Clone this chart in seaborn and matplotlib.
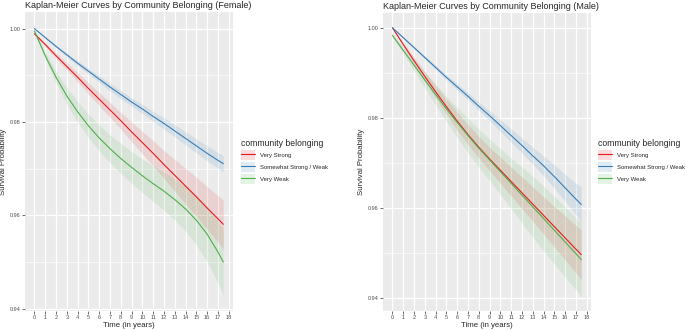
import pandas as pd
import seaborn as sns
import matplotlib.pyplot as plt
from matplotlib.lines import Line2D
from matplotlib.patches import Patch

# Time points (years) and groups
years = [0, 1, 2, 3, 4, 5, 6, 7, 8, 9, 10, 11, 12, 13, 14, 15, 16, 17, 17.5]
groups = ['Very Strong', 'Somewhat Strong / Weak', 'Very Weak']
colors = ['#E41A1C', '#377EB8', '#4DAF4A']
x_ticks = list(range(19))
y_ticks = [0.94, 0.96, 0.98, 1.00]

# Female survival estimates and CI half-widths
f_very_strong = [0.9989, 0.9966, 0.9942, 0.9919, 0.9896, 0.9872, 0.9849, 0.9826, 0.9803, 0.9779,
                 0.9756, 0.9733, 0.9709, 0.9686, 0.9663, 0.9640, 0.9616, 0.9593, 0.9581]
f_very_strong_ci = [0.0002, 0.0004, 0.0006, 0.0008, 0.0010, 0.0012, 0.0014, 0.0016, 0.0018, 0.0021,
                    0.0024, 0.0027, 0.0030, 0.0034, 0.0038, 0.0042, 0.0046, 0.0050, 0.0052]
f_somewhat = [1.0000, 0.9981, 0.9962, 0.9944, 0.9926, 0.9909, 0.9892, 0.9875, 0.9859, 0.9843,
              0.9828, 0.9812, 0.9797, 0.9781, 0.9765, 0.9749, 0.9733, 0.9718, 0.9711]
f_somewhat_ci = [0.0001, 0.0002, 0.0003, 0.0004, 0.0005, 0.0006, 0.0007, 0.0008, 0.0009, 0.0009,
                 0.0010, 0.0011, 0.0012, 0.0013, 0.0014, 0.0015, 0.0016, 0.0017, 0.0017]
f_very_weak = [0.9995, 0.9942, 0.9896, 0.9856, 0.9822, 0.9792, 0.9766, 0.9743, 0.9722, 0.9703,
               0.9685, 0.9668, 0.9652, 0.9634, 0.9614, 0.9590, 0.9560, 0.9522, 0.9500]
f_very_weak_ci = [0.0002, 0.0008, 0.0013, 0.0018, 0.0022, 0.0025, 0.0028, 0.0030, 0.0032, 0.0034,
                  0.0036, 0.0038, 0.0041, 0.0044, 0.0048, 0.0053, 0.0059, 0.0066, 0.0070]

# Male survival estimates and CI half-widths
m_very_strong = [1.0000, 0.9963, 0.9927, 0.9892, 0.9858, 0.9825, 0.9793, 0.9763, 0.9735, 0.9709,
                 0.9684, 0.9659, 0.9634, 0.9609, 0.9584, 0.9559, 0.9534, 0.9509, 0.9497]
m_very_strong_ci = [0.0001, 0.0004, 0.0008, 0.0011, 0.0014, 0.0017, 0.0020, 0.0022, 0.0024, 0.0026,
                    0.0029, 0.0032, 0.0035, 0.0038, 0.0041, 0.0045, 0.0049, 0.0053, 0.0055]
m_somewhat = [1.0000, 0.9978, 0.9956, 0.9934, 0.9912, 0.9890, 0.9869, 0.9848, 0.9826, 0.9805,
              0.9783, 0.9761, 0.9739, 0.9716, 0.9694, 0.9670, 0.9645, 0.9620, 0.9608]
m_somewhat_ci = [0.0001, 0.0002, 0.0003, 0.0004, 0.0005, 0.0006, 0.0007, 0.0008, 0.0009, 0.0011,
                 0.0013, 0.0015, 0.0017, 0.0019, 0.0022, 0.0026, 0.0030, 0.0035, 0.0039]
m_very_weak = [0.9983, 0.9950, 0.9917, 0.9884, 0.9852, 0.9820, 0.9790, 0.9761, 0.9733, 0.9707,
               0.9681, 0.9655, 0.9629, 0.9603, 0.9577, 0.9551, 0.9525, 0.9499, 0.9486]
m_very_weak_ci = [0.0003, 0.0008, 0.0013, 0.0018, 0.0023, 0.0028, 0.0033, 0.0038, 0.0042, 0.0046,
                  0.0051, 0.0056, 0.0062, 0.0068, 0.0072, 0.0075, 0.0078, 0.0080, 0.0082]

sns.set_theme(style='darkgrid')
plt.rcParams['font.family'] = ['Liberation Sans', 'DejaVu Sans']
plt.rcParams['axes.facecolor'] = '#EBEBEB'

fig = plt.figure(figsize=(6.85, 3.3), dpi=100)
W, H = 685, 330


def add_axes(left, right, top, bottom):
    return fig.add_axes([left / W, 1 - bottom / H, (right - left) / W, (bottom - top) / H])


def draw_panel(ax, surv, ci, title, ylim, legend_x):
    rows = []
    for g, s in zip(groups, surv):
        for t, v in zip(years, s):
            rows.append({'time': t, 'surv': v, 'group': g})
    df = pd.DataFrame(rows)

    for s, c, h in zip(surv, colors, ci):
        lo = [a - b for a, b in zip(s, h)]
        hi = [a + b for a, b in zip(s, h)]
        ax.fill_between(years, lo, hi, color=c, alpha=0.12, lw=0)

    sns.lineplot(data=df, x='time', y='surv', hue='group', palette=dict(zip(groups, colors)),
                 hue_order=groups, ax=ax, lw=0.8, legend=False)

    ax.set_xlim(-0.875, 18.4)
    ax.set_ylim(*ylim)
    ax.set_xticks(x_ticks)
    ax.set_xticklabels([str(x) for x in x_ticks])
    ax.set_yticks(y_ticks)
    ax.set_yticklabels([f'{y:.2f}' for y in y_ticks])
    ax.set_yticks([0.95, 0.97, 0.99], minor=True)
    ax.grid(which='major', color='white', lw=0.9)
    ax.grid(which='minor', axis='y', color='white', lw=0.45)
    for sp in ax.spines.values():
        sp.set_visible(False)
    ax.tick_params(which='major', length=2, width=0.5, color='#333333', labelsize=4,
                   labelcolor='#4D4D4D', pad=1, bottom=True, left=True)
    ax.tick_params(which='minor', length=0)
    ax.set_xlabel('Time (in years)', fontsize=5.6, labelpad=1.5)
    ax.set_ylabel('Survival Probability', fontsize=5.6, labelpad=2)
    ax.set_title(title, loc='left', fontsize=6.5, pad=3)

    handles = [(Patch(facecolor=c, alpha=0.15, lw=0), Line2D([], [], color=c, lw=0.8)) for c in colors]
    ax.legend(handles, groups, loc='upper left', bbox_to_anchor=(legend_x / W, 1 - 139 / H),
              bbox_transform=fig.transFigure, title='community belonging', frameon=False,
              fontsize=4.3, title_fontsize=6.2, handlelength=2.3, handleheight=2.2,
              labelspacing=0.35, borderpad=0, borderaxespad=0, handletextpad=0.9,
              alignment='left')


ax1 = add_axes(25, 233, 12.3, 310.7)
draw_panel(ax1, [f_very_strong, f_somewhat, f_very_weak],
           [f_very_strong_ci, f_somewhat_ci, f_very_weak_ci],
           'Kaplan-Meier Curves by Community Belonging (Female)', (0.9396, 1.0035), 241)

ax2 = add_axes(383, 591, 13.3, 310.7)
draw_panel(ax2, [m_very_strong, m_somewhat, m_very_weak],
           [m_very_strong_ci, m_somewhat_ci, m_very_weak_ci],
           'Kaplan-Meier Curves by Community Belonging (Male)', (0.93725, 1.0032), 598)

fig.savefig('out.png', dpi=100)
plt.close()
